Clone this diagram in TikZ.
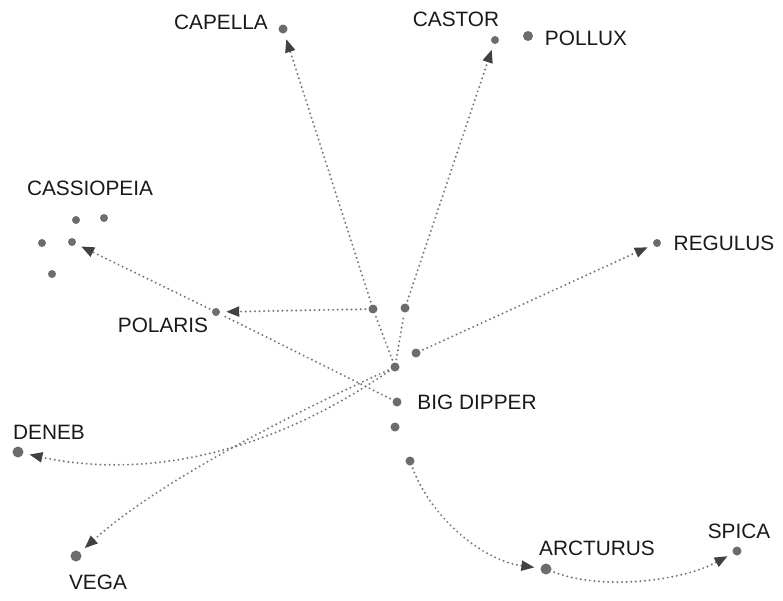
\documentclass[tikz,border=0pt]{standalone}
\usepackage{fontspec}
\setmainfont{Liberation Sans}
\usetikzlibrary{arrows.meta}
\definecolor{starc}{RGB}{108,108,108}
\definecolor{linec}{RGB}{118,118,118}
\definecolor{tipc}{RGB}{65,65,65}
\definecolor{txt}{RGB}{25,25,25}
\begin{document}
\begin{tikzpicture}[x=1pt,y=-1pt,
  star/.style={circle,fill=starc,inner sep=0pt,minimum size=#1},
  star/.default=9pt,
  lbl/.style={text=txt,font=\fontsize{20.8}{25}\selectfont,inner sep=0pt},
  link/.style={draw=linec,line width=2.2pt,line cap=round,dash pattern=on 0pt off 4.6pt,shorten <=3pt},
  arr/.style={link,-{Triangle[length=13pt,width=10pt,fill=tipc,color=tipc,line cap=butt]},shorten >=6pt}
]
\useasboundingbox (0,0) rectangle (783,600);
% stars
\node[star=9pt] (capella) at (283,29) {};
\node[star=8pt] (castor) at (495,40) {};
\node[star=10pt] (pollux) at (528,36) {};
\node[star=8pt] (cas1) at (76,220) {};
\node[star=8pt] (cas2) at (104,218) {};
\node[star=8pt] (cas3) at (42,243) {};
\node[star=8pt] (cas4) at (72,242) {};
\node[star=8pt] (cas5) at (52,274) {};
\node[star=8pt] (polaris) at (216,312) {};
\node[star=8pt] (regulus) at (657,243) {};
\node[star=11pt] (deneb) at (18,452) {};
\node[star=11pt] (vega) at (76,556) {};
\node[star=11pt] (arcturus) at (546,569) {};
\node[star=9pt] (spica) at (737,551) {};
\node[star=9pt] (s1) at (373,309) {};
\node[star=9pt] (s2) at (405,308) {};
\node[star=9pt] (s3) at (416,353) {};
\node[star=9pt] (s4) at (395,367) {};
\node[star=9pt] (s5) at (397,402) {};
\node[star=9pt] (s6) at (395,427) {};
\node[star=9pt] (s7) at (410,461) {};
% labels
\node[lbl] (lcapella) at (221,22) {CAPELLA};
\node[lbl] (lcastor) at (456,19) {CASTOR};
\node[lbl] (lpollux) at (586,38) {POLLUX};
\node[lbl] (lcas) at (90,188) {CASSIOPEIA};
\node[lbl] (lpolaris) at (163,325) {POLARIS};
\node[lbl] (lregulus) at (724,243) {REGULUS};
\node[lbl] (ldipper) at (477,402) {BIG DIPPER};
\node[lbl] (ldeneb) at (49,432) {DENEB};
\node[lbl] (lvega) at (98,582) {VEGA};
\node[lbl] (larcturus) at (597,548) {ARCTURUS};
\node[lbl] (lspica) at (739,531) {SPICA};
% connectors
\draw[link,shorten >=3pt] (s4) -- (s1);
\draw[arr] (s1) -- (capella);
\draw[link,shorten >=3pt] (s4) -- (s2);
\draw[arr] (s2) -- (castor);
\draw[arr] (s1) -- (polaris);
\draw[link,shorten >=3pt] (s5) -- (polaris);
\draw[arr] (polaris) -- (cas4);
\draw[arr] (s3) -- (regulus);
\draw[arr] (s4) .. controls (300,410) and (160,480) .. (vega);
\draw[arr] (s4) .. controls (230,480) and (100,470) .. (deneb);
\draw[arr] (s7) .. controls (430,515) and (480,560) .. (arcturus);
\draw[arr] (arcturus) .. controls (600,590) and (680,582) .. (spica);
\end{tikzpicture}
\end{document}
